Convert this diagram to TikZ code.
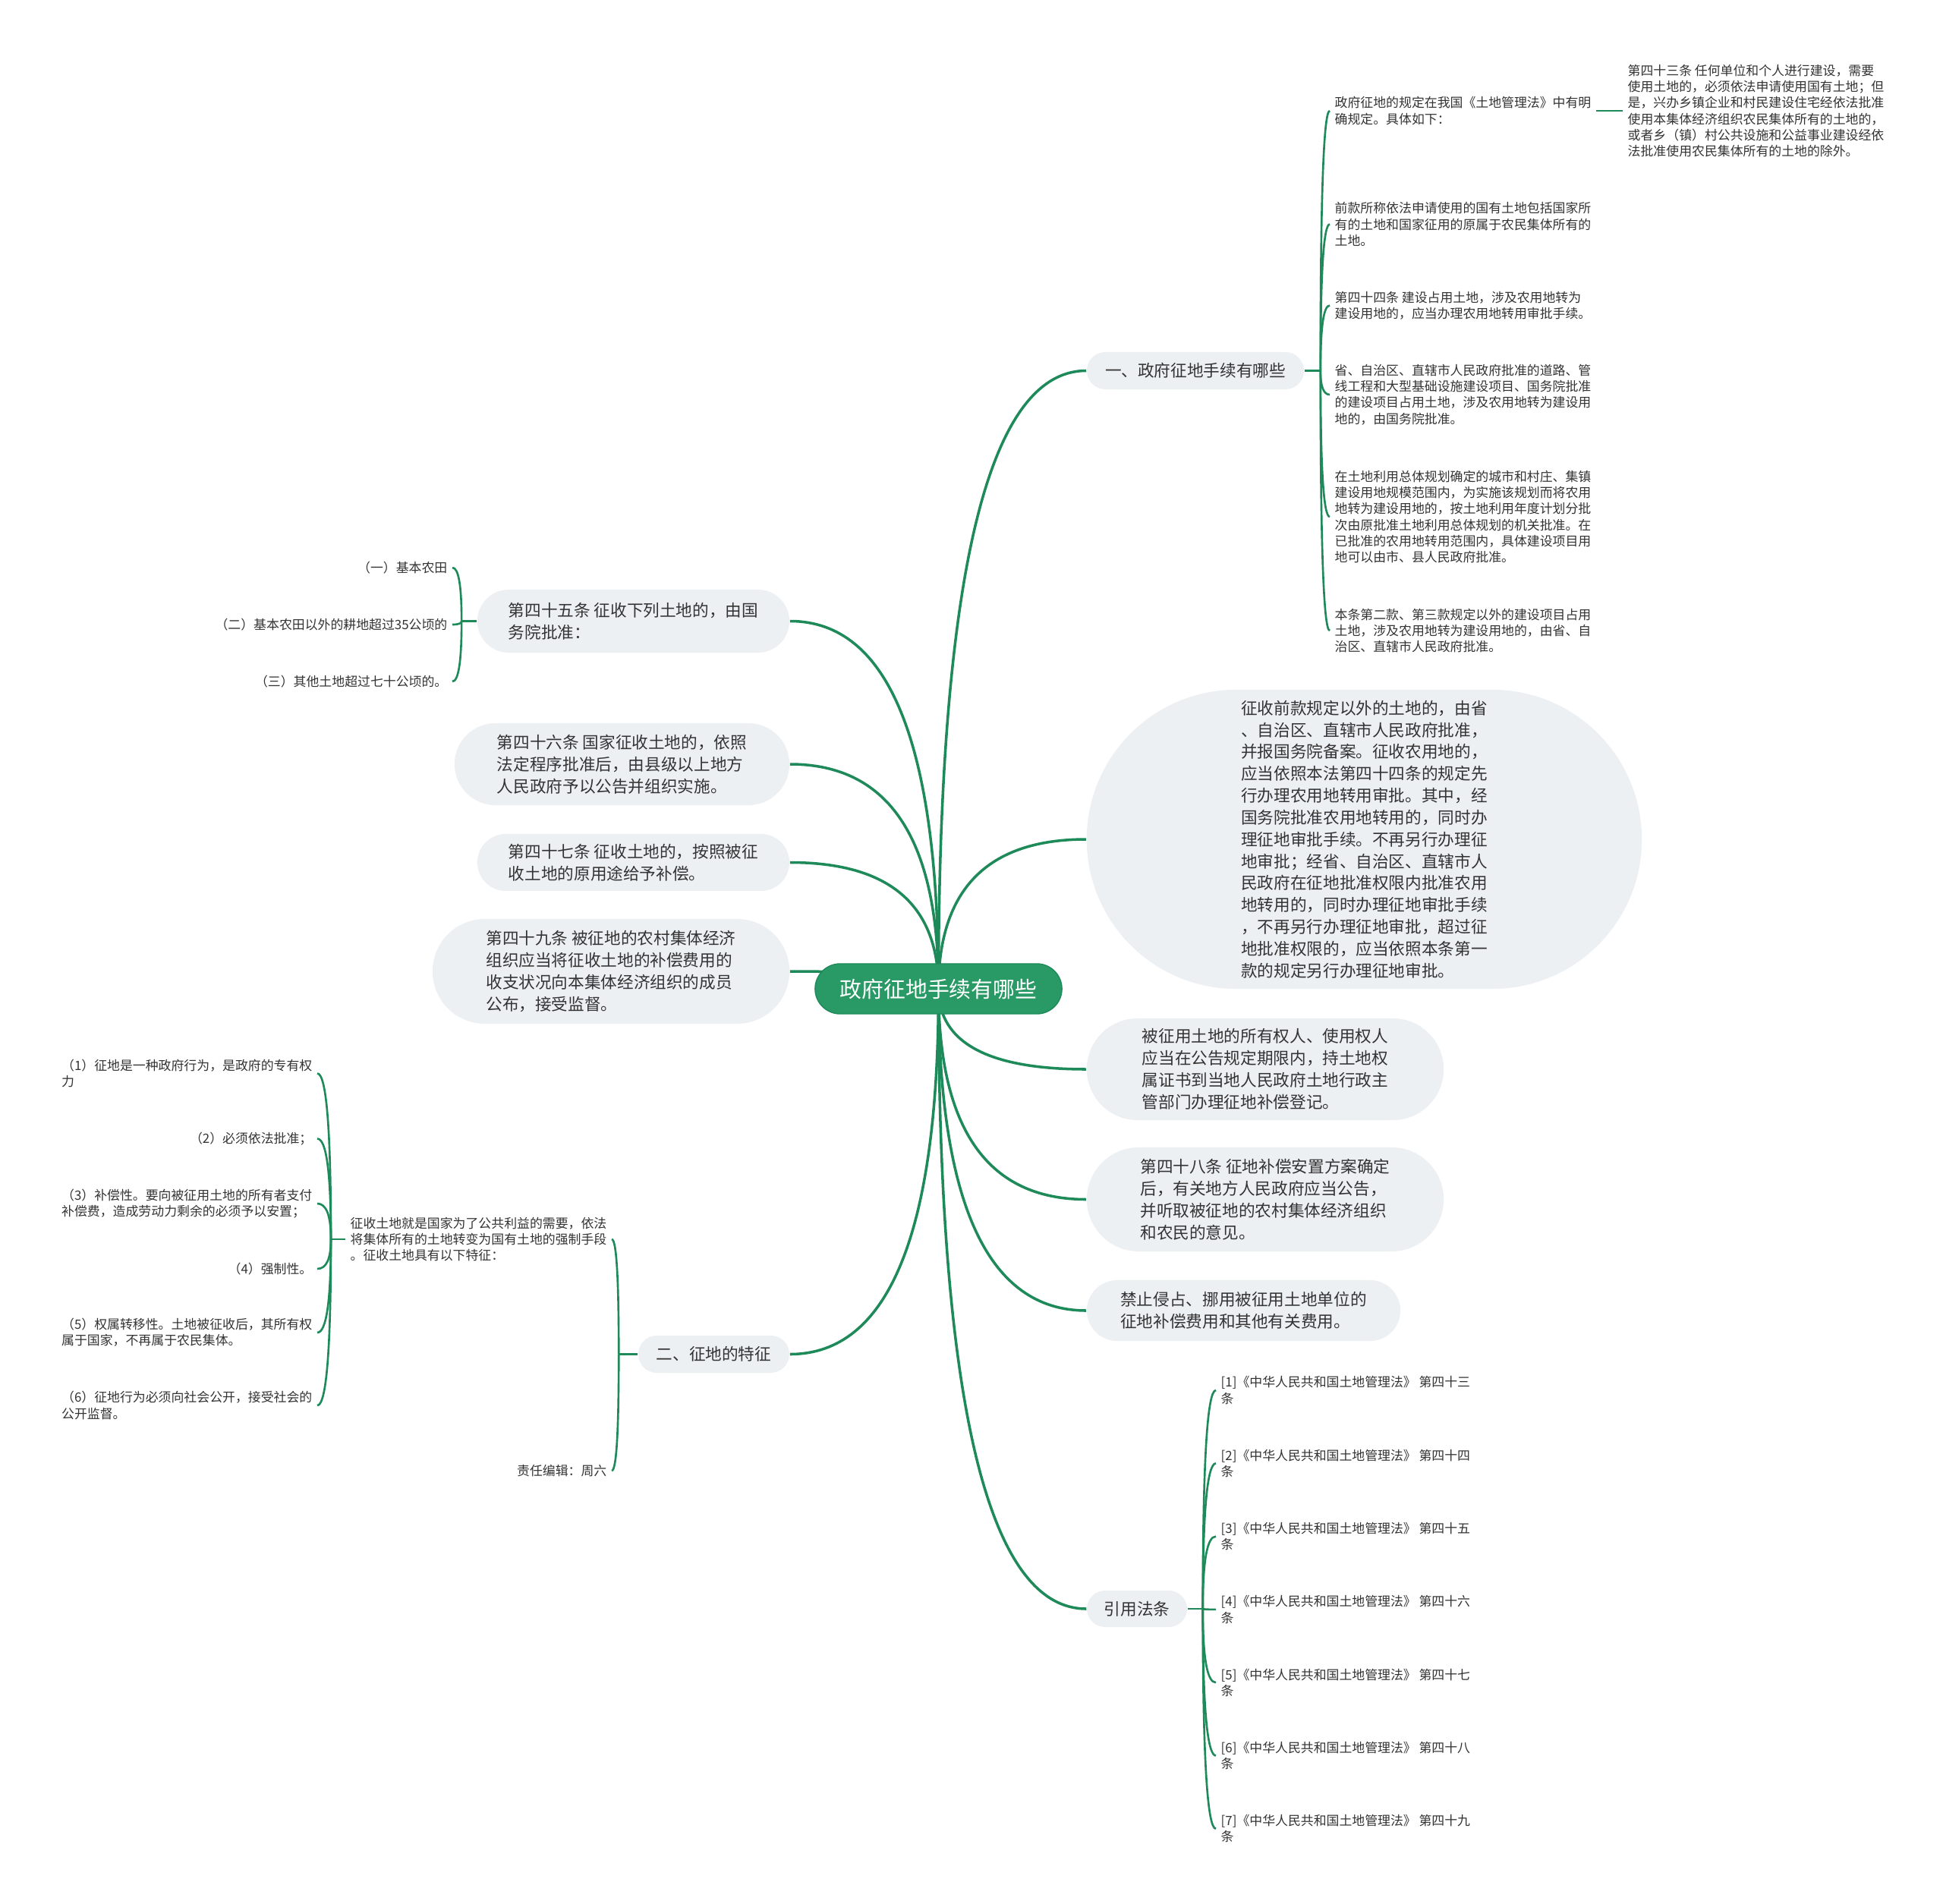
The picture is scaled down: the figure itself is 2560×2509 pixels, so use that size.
\documentclass[tikz,border=0pt]{standalone}
\usepackage{fontspec}
\newfontfamily\cjk{Noto Sans CJK SC}
\usetikzlibrary{backgrounds,calc}

\definecolor{rootgreen}{HTML}{299966}
\definecolor{linegreen}{HTML}{1E8A5A}
\definecolor{topicgray}{HTML}{EDF0F3}
\definecolor{textdark}{HTML}{333333}

\newcommand\rootfont{\cjk\fontsize{8.2pt}{10pt}\selectfont}
\newcommand\topicfont{\cjk\fontsize{6.15pt}{8.2pt}\selectfont}
\newcommand\leaffont{\cjk\fontsize{4.8pt}{6.05pt}\selectfont}

\tikzset{
	root/.style={fill=rootgreen, draw=linegreen, text=white, font=\rootfont, inner sep=0pt},
	topic/.style={fill=topicgray, text=textdark, font=\topicfont, align=left, inner sep=0pt},
	leaf/.style={text=textdark, font=\leaffont, align=left, inner xsep=0.06cm, inner ysep=0pt},
	branch/.style={draw=linegreen, line width=1pt},
	twig/.style={draw=linegreen, line width=0.75pt},
	elbow/.style={to path={.. controls ($(\tikztostart)!0.667!(\tikztostart |- \tikztotarget)$) and ($(\tikztotarget)!0.667!(\tikztostart |- \tikztotarget)$) .. (\tikztotarget)}},
}

\begin{document}
\begin{tikzpicture}[x=0.01cm, y=-0.01cm]
		\useasboundingbox (0,0) rectangle (2560,2509);

		\node[root, minimum width=3.25cm, minimum height=0.66cm, rounded corners=0.33cm] (title) at (1236.5,1303) {政府征地手续有哪些};

		% right side
		\node[topic, minimum width=2.86cm, minimum height=0.49cm, rounded corners=0.245cm] (procedure) at (1575,488.5) {一、政府征地手续有哪些};
		\node[topic, minimum width=7.31cm, minimum height=3.94cm, rounded corners=1.97cm] (beyond) at (1797.5,1106) {征收前款规定以外的土地的，由省\\、自治区、直辖市人民政府批准，\\并报国务院备案。征收农用地的，\\应当依照本法第四十四条的规定先\\行办理农用地转用审批。其中，经\\国务院批准农用地转用的，同时办\\理征地审批手续。不再另行办理征\\地审批；经省、自治区、直辖市人\\民政府在征地批准权限内批准农用\\地转用的，同时办理征地审批手续\\，不再另行办理征地审批，超过征\\地批准权限的，应当依照本条第一\\款的规定另行办理征地审批。};
		\node[topic, minimum width=4.70cm, minimum height=1.34cm, rounded corners=0.67cm] (register) at (1667,1409) {被征用土地的所有权人、使用权人\\应当在公告规定期限内，持土地权\\属证书到当地人民政府土地行政主\\管部门办理征地补偿登记。};
		\node[topic, minimum width=4.70cm, minimum height=1.37cm, rounded corners=0.685cm] (art48) at (1667,1580.5) {第四十八条 征地补偿安置方案确定\\后，有关地方人民政府应当公告，\\并听取被征地的农村集体经济组织\\和农民的意见。};
		\node[topic, minimum width=4.13cm, minimum height=0.80cm, rounded corners=0.40cm] (misuse) at (1638.5,1727) {禁止侵占、挪用被征用土地单位的\\征地补偿费用和其他有关费用。};
		\node[topic, minimum width=1.32cm, minimum height=0.48cm, rounded corners=0.24cm] (citations) at (1498,2120) {引用法条};

		% left side
		\node[topic, minimum width=4.11cm, minimum height=0.83cm, rounded corners=0.415cm] (art45) at (834.5,818.5) {第四十五条 征收下列土地的，由国\\务院批准：};
		\node[topic, minimum width=4.41cm, minimum height=1.08cm, rounded corners=0.54cm] (art46) at (819.5,1007) {第四十六条 国家征收土地的，依照\\法定程序批准后，由县级以上地方\\人民政府予以公告并组织实施。};
		\node[topic, minimum width=4.11cm, minimum height=0.75cm, rounded corners=0.375cm] (art47) at (834.5,1136.5) {第四十七条 征收土地的，按照被征\\收土地的原用途给予补偿。};
		\node[topic, minimum width=4.70cm, minimum height=1.38cm, rounded corners=0.69cm] (art49) at (805,1280) {第四十九条 被征地的农村集体经济\\组织应当将征收土地的补偿费用的\\收支状况向本集体经济组织的成员\\公布，接受监督。};
		\node[topic, minimum width=1.99cm, minimum height=0.49cm, rounded corners=0.245cm] (features) at (940.5,1784.5) {二、征地的特征};

		% leaves of procedure
		\node[leaf, anchor=west] (rule) at (1752,146) {政府征地的规定在我国《土地管理法》中有明\\确规定。具体如下：};
		\node[leaf, anchor=west] (art43) at (2138,146) {第四十三条 任何单位和个人进行建设，需要\\使用土地的，必须依法申请使用国有土地；但\\是，兴办乡镇企业和村民建设住宅经依法批准\\使用本集体经济组织农民集体所有的土地的，\\或者乡（镇）村公共设施和公益事业建设经依\\法批准使用农民集体所有的土地的除外。};
		\node[leaf, anchor=west] (stateland) at (1752,295.5) {前款所称依法申请使用的国有土地包括国家所\\有的土地和国家征用的原属于农民集体所有的\\土地。};
		\node[leaf, anchor=west] (art44) at (1752,402.5) {第四十四条 建设占用土地，涉及农用地转为\\建设用地的，应当办理农用地转用审批手续。};
		\node[leaf, anchor=west] (council) at (1752,520) {省、自治区、直辖市人民政府批准的道路、管\\线工程和大型基础设施建设项目、国务院批准\\的建设项目占用土地，涉及农用地转为建设用\\地的，由国务院批准。};
		\node[leaf, anchor=west] (plan) at (1752,681) {在土地利用总体规划确定的城市和村庄、集镇\\建设用地规模范围内，为实施该规划而将农用\\地转为建设用地的，按土地利用年度计划分批\\次由原批准土地利用总体规划的机关批准。在\\已批准的农用地转用范围内，具体建设项目用\\地可以由市、县人民政府批准。};
		\node[leaf, anchor=west] (province) at (1752,831) {本条第二款、第三款规定以外的建设项目占用\\土地，涉及农用地转为建设用地的，由省、自\\治区、直辖市人民政府批准。};

		% leaves of citations
		\foreach \i/\num in {1/三,2/四,3/五,4/六,5/七,6/八,7/九}
			\node[leaf, anchor=west] (ref\i) at (1602,{1735.7+96.3*\i}) {[\i]《中华人民共和国土地管理法》 第四十\num\\条};

		% leaves of art45
		\node[leaf, anchor=east] (farmland) at (596,748) {（一）基本农田};
		\node[leaf, anchor=east] (arable) at (596,823) {（二）基本农田以外的耕地超过35公顷的};
		\node[leaf, anchor=east] (otherland) at (596,898) {（三）其他土地超过七十公顷的。};

		% leaves of features
		\node[leaf, anchor=east] (definition) at (806,1633) {征收土地就是国家为了公共利益的需要，依法\\将集体所有的土地转变为国有土地的强制手段\\。征收土地具有以下特征：};
		\node[leaf, anchor=east] (editor) at (806,1938) {责任编辑：周六};
		\node[leaf, anchor=east] (feat1) at (418,1414.5) {（1）征地是一种政府行为，是政府的专有权\\力};
		\node[leaf, anchor=east] (feat2) at (418,1500.5) {（2）必须依法批准；};
		\node[leaf, anchor=east] (feat3) at (418,1586) {（3）补偿性。要向被征用土地的所有者支付\\补偿费，造成劳动力剩余的必须予以安置；};
		\node[leaf, anchor=east] (feat4) at (418,1672) {（4）强制性。};
		\node[leaf, anchor=east] (feat5) at (418,1756) {（5）权属转移性。土地被征收后，其所有权\\属于国家，不再属于农民集体。};
		\node[leaf, anchor=east] (feat6) at (418,1852) {（6）征地行为必须向社会公开，接受社会的\\公开监督。};

		\coordinate (procjoint) at ([xshift=0.21cm]procedure.east);
		\coordinate (citejoint) at ([xshift=0.2cm]citations.east);
		\coordinate (art45joint) at ([xshift=-0.2cm]art45.west);
		\coordinate (featjoint) at ([xshift=-0.25cm]features.west);
		\coordinate (defjoint) at ([xshift=-0.19cm]definition.west);

		\begin{scope}[on background layer]
			\fill[white] (0,0) rectangle (2560,2509);
			\foreach \n in {procedure,beyond,register,art48,misuse,citations}
				\draw[branch] (title.center) to[elbow] (\n.west);
			\foreach \n in {art45,art46,art47,art49,features}
				\draw[branch] (title.center) to[elbow] (\n.east);

			\draw[twig] (procedure.east) -- (procjoint);
			\foreach \n in {rule,stateland,art44,council,plan,province}
				\draw[twig] (procjoint) to[elbow] (\n.west);
			\draw[twig] (rule.east) -- (art43.west);

			\draw[twig] (citations.east) -- (citejoint);
			\foreach \i in {1,...,7}
				\draw[twig] (citejoint) to[elbow] (ref\i.west);

			\draw[twig] (art45.west) -- (art45joint);
			\foreach \n in {farmland,arable,otherland}
				\draw[twig] (art45joint) to[elbow] (\n.east);

			\draw[twig] (features.west) -- (featjoint);
			\foreach \n in {definition,editor}
				\draw[twig] (featjoint) to[elbow] (\n.east);

			\draw[twig] (definition.west) -- (defjoint);
			\foreach \i in {1,...,6}
				\draw[twig] (defjoint) to[elbow] (feat\i.east);
		\end{scope}
	\end{tikzpicture}
\end{document}
